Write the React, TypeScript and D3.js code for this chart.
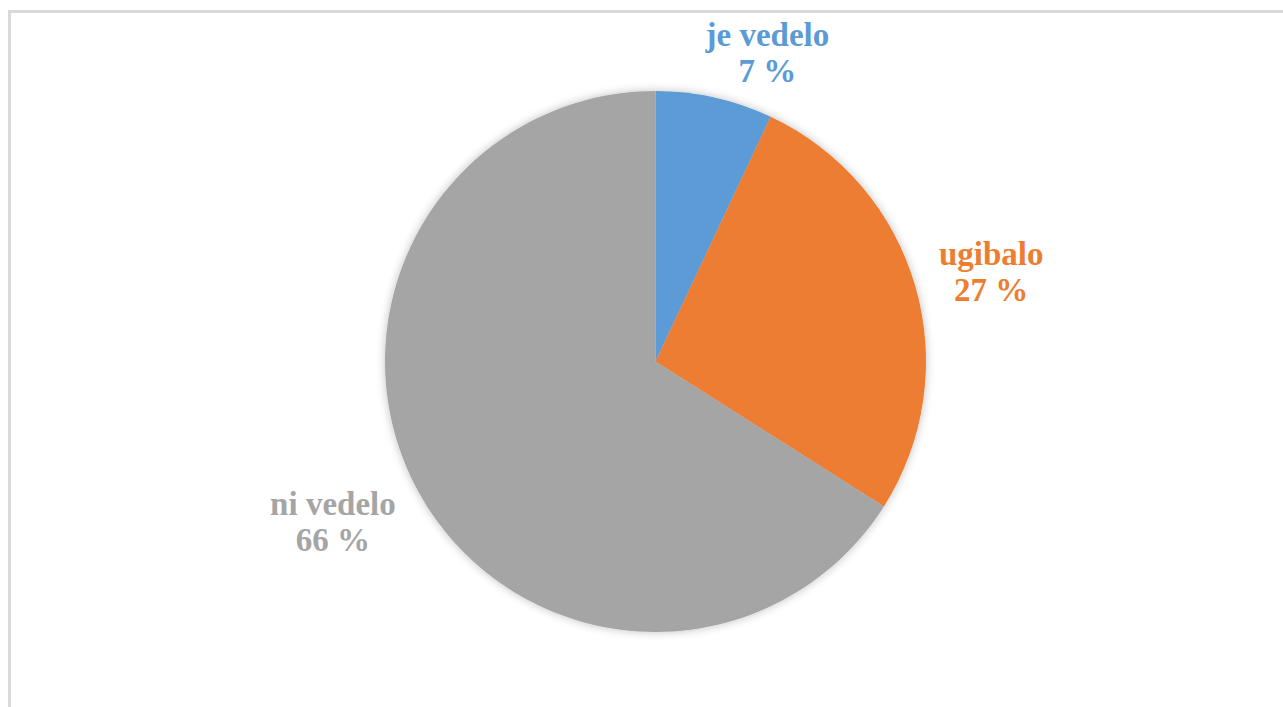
import React from 'react';
import * as d3 from 'd3';

const categories = ['je vedelo', 'ugibalo', 'ni vedelo'];
const values = [7, 27, 66];
const colors = ['#5B9BD5', '#ED7D31', '#A5A5A5'];

const width = 1283;
const height = 707;
const cx = 655.5;
const cy = 361.5;
const radius = 270.5;
// labels sit just outside the pie, nudged like Excel's best-fit placement
const labelFactor = 1.15;
const labelNudge: [number, number][] = [
  [44, -12],
  [37, -10],
  [-50, 4],
];

const App = () => {
  const pie = d3
    .pie<number>()
    .sort(null)
    .value((d) => d);
  const arcs = pie(values);

  const arcGen = d3.arc<d3.PieArcDatum<number>>().innerRadius(0).outerRadius(radius);

  return (
    <svg
      width={width}
      height={height}
      style={{ position: 'absolute', left: 0, top: 0 }}
    >
      <defs>
        <filter id='pie-shadow' x='-20%' y='-20%' width='140%' height='140%'>
          <feGaussianBlur in='SourceAlpha' stdDeviation='5' />
          <feComponentTransfer>
            <feFuncA type='linear' slope='0.25' />
          </feComponentTransfer>
          <feMerge>
            <feMergeNode />
            <feMergeNode in='SourceGraphic' />
          </feMerge>
        </filter>
      </defs>
      <rect x={0} y={0} width={width} height={height} fill='#ffffff' />
      {/* chart frame */}
      <rect
        x={9.5}
        y={11.5}
        width={width + 20}
        height={height + 20}
        fill='none'
        stroke='#d9d9d9'
        strokeWidth={3}
      />
      <g transform={`translate(${cx}, ${cy})`} filter='url(#pie-shadow)'>
        {arcs.map((a, i) => (
          <path key={categories[i]} d={arcGen(a) ?? ''} fill={colors[i]} />
        ))}
      </g>
      <g transform={`translate(${cx}, ${cy})`}>
        {arcs.map((a, i) => {
          const mid = (a.startAngle + a.endAngle) / 2;
          const r = radius * labelFactor;
          const x = Math.sin(mid) * r + labelNudge[i][0];
          const y = -Math.cos(mid) * r + labelNudge[i][1];
          return (
            <text
              key={categories[i]}
              x={x}
              y={y}
              textAnchor='middle'
              fill={colors[i]}
              style={{
                fontFamily: '"Liberation Serif", "Times New Roman", serif',
                fontWeight: 'bold',
                fontSize: 33,
              }}
            >
              <tspan x={x} dy={0}>
                {categories[i]}
              </tspan>
              <tspan x={x} dy={36}>
                {`${values[i]} %`}
              </tspan>
            </text>
          );
        })}
      </g>
    </svg>
  );
};

export default App;
